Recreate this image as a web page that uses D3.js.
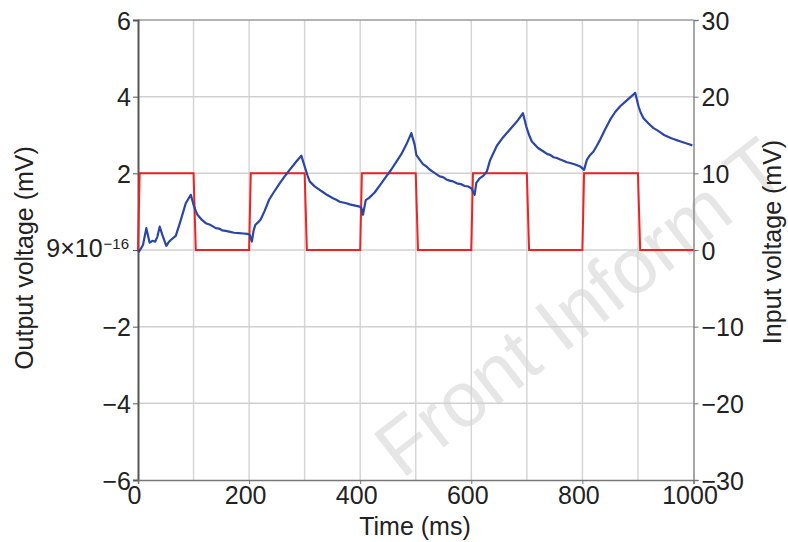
<!DOCTYPE html>
<html>
<head>
<meta charset="utf-8">
<script src="https://cdn.jsdelivr.net/npm/d3@7"></script>
<style>
  html, body { margin: 0; padding: 0; background: #fff; }
  svg { display: block; font-family: "Liberation Sans", Arial, sans-serif; }
</style>
</head>
<body>
<svg id="chart" width="788" height="542"></svg>
<script>
// ---- data ----
const xTicks = [0, 200, 400, 600, 800, 1000];
const xGrid = [100, 200, 300, 400, 500, 600, 700, 800, 900];
const leftTicks = [-6, -4, -2, 0, 2, 4, 6];
const leftTickLabels = ["\u22126", "\u22124", "\u22122", "9\u00d710", "2", "4", "6"];
const rightTicks = [-30, -20, -10, 0, 10, 20, 30];
const rightTickLabels = ["\u221230", "\u221220", "\u221210", "0", "10", "20", "30"];

// input (red) square wave, mV
const inputTime = [0, 3, 100, 104, 200, 203, 300, 304, 400, 403, 500, 504, 600, 603, 700, 704, 800, 803, 900, 904, 1000];
const inputVolt = [0, 10, 10, 0, 0, 10, 10, 0, 0, 10, 10, 0, 0, 10, 10, 0, 0, 10, 10, 0, 0];

// output (blue), mV
const outputTime = [0, 2, 9, 15, 21, 26, 31, 35, 39, 44, 51, 55, 59, 68, 77, 86, 95, 100, 104, 107, 114, 122, 131, 140, 146, 152, 158, 164, 173, 182, 190, 197,
  201, 205, 208, 211, 216, 221, 228, 236, 245, 255, 264, 273, 285, 294, 300, 305, 309, 318, 327, 334, 340, 351, 357, 363, 375, 381, 387, 399,
  402, 405, 410, 416, 426, 437, 447, 456, 465, 474, 483, 492, 498, 501, 507, 513, 519, 525, 531, 537, 543, 549, 555, 561, 567, 574, 581, 588, 594,
  600, 606, 609, 615, 622, 628, 634, 646, 655, 664, 673, 682, 693, 699, 704, 709, 715, 720, 730, 737, 742, 748, 754, 760, 766, 772, 778, 787, 796,
  803, 808, 814, 820, 826, 832, 841, 850, 859, 868, 882, 895, 901, 905, 910, 919, 928, 935, 941, 947, 953, 959, 965, 971, 977, 985, 992, 998];
const outputVolt = [-0.02, -0.04, 0.13, 0.57, 0.19, 0.24, 0.22, 0.35, 0.61, 0.39, 0.11, 0.2, 0.26, 0.37, 0.78, 1.22, 1.44, 1.18, 1.02, 0.92, 0.8, 0.70, 0.65, 0.57, 0.56, 0.51, 0.5, 0.48, 0.45, 0.44, 0.43, 0.42,
  0.4, 0.22, 0.5, 0.65, 0.72, 0.8, 1.02, 1.31, 1.52, 1.74, 1.92, 2.09, 2.31, 2.46, 2.18, 1.95, 1.79, 1.66, 1.57, 1.5, 1.44, 1.35, 1.31, 1.26, 1.22, 1.19, 1.17, 1.13,
  1.1, 0.92, 1.3, 1.36, 1.5, 1.72, 1.92, 2.1, 2.3, 2.5, 2.75, 3.05, 2.75, 2.48, 2.36, 2.24, 2.18, 2.1, 2.04, 1.98, 1.92, 1.9, 1.84, 1.81, 1.79, 1.74, 1.72, 1.67, 1.66,
  1.61, 1.44, 1.75, 1.87, 1.94, 2.05, 2.35, 2.72, 2.9, 3.05, 3.2, 3.35, 3.57, 3.22, 3.0, 2.83, 2.74, 2.66, 2.57, 2.5, 2.48, 2.42, 2.40, 2.36, 2.33, 2.29, 2.27, 2.23, 2.18,
  2.09, 2.35, 2.48, 2.57, 2.72, 2.88, 3.15, 3.40, 3.6, 3.75, 3.93, 4.10, 3.75, 3.58, 3.44, 3.3, 3.18, 3.12, 3.06, 3.0, 2.96, 2.92, 2.89, 2.86, 2.83, 2.79, 2.76, 2.73];

// ---- layout ----
const svg = d3.select("#chart");
const x = d3.scaleLinear().domain([0, 1000]).range([138, 693.5]);
const yL = d3.scaleLinear().domain([-6, 6]).range([480, 20]);
const yR = d3.scaleLinear().domain([-30, 30]).range([480, 20]);

// watermark
svg.append("text")
  .attr("transform", "translate(402,480) rotate(-38)")
  .attr("font-size", 78)
  .attr("fill", "#e6e6e6")
  .text("Front Inform T");

// grid
svg.append("g").selectAll("line").data(xGrid).join("line")
  .attr("x1", d => x(d)).attr("x2", d => x(d))
  .attr("y1", yL(6)).attr("y2", yL(-6))
  .attr("stroke", "#d6d6d6").attr("stroke-width", 1.5);
svg.append("g").selectAll("line").data([-4, -2, 0, 2, 4]).join("line")
  .attr("x1", x(0)).attr("x2", x(1000))
  .attr("y1", d => yL(d)).attr("y2", d => yL(d))
  .attr("stroke", "#d0d0d0").attr("stroke-width", 1.5);

// frame top
svg.append("line").attr("x1", x(0)).attr("x2", x(1000)).attr("y1", yL(6)).attr("y2", yL(6))
  .attr("stroke", "#9a9a9a").attr("stroke-width", 1.5);

// axes
const fs = 25;
const axL = d3.axisLeft(yL).tickValues(leftTicks).tickSize(5).tickFormat((d, i) => leftTickLabels[i]);
const gL = svg.append("g").attr("transform", `translate(${x(0)},0)`).call(axL);
const axR = d3.axisRight(yR).tickValues(rightTicks).tickSize(5).tickFormat((d, i) => rightTickLabels[i]);
const gR = svg.append("g").attr("transform", `translate(${x(1000)},0)`).call(axR);
const axB = d3.axisBottom(x).tickValues(xTicks).tickSize(4).tickFormat(d3.format("d"));
const gB = svg.append("g").attr("transform", `translate(0,${yL(-6)})`).call(axB);

[gL, gR, gB].forEach(g => {
  g.selectAll("text").attr("font-size", fs).attr("font-family", "'Liberation Sans', Arial, sans-serif").attr("fill", "#222");
});
gL.select(".domain").attr("stroke", "#555").attr("stroke-width", 2);
gL.selectAll(".tick line").attr("stroke", "#555");
gL.selectAll(".tick text").attr("x", -7).attr("dy", "0.36em");
gR.select(".domain").attr("stroke", "#8a8a8a").attr("stroke-width", 1.5);
gR.selectAll(".tick line").attr("stroke", "#777");
gR.selectAll(".tick text").attr("x", 8).attr("dy", "0.36em");
gB.select(".domain").attr("stroke", "#777").attr("stroke-width", 1.5);
gB.selectAll(".tick line").attr("stroke", "#777");
gB.selectAll(".tick text").attr("y", 6).attr("dx", -4);

// superscript for the 0 tick label on the left axis
gL.selectAll(".tick text").filter((d) => d === 0)
  .attr("dy", "0.24em")
  .append("tspan").attr("baseline-shift", "super").attr("font-size", 15).attr("dx", 1).text("\u221216");
gL.selectAll(".tick text").filter((d) => d === 0).attr("x", -9);

// lines
const lineIn = d3.line().x((d, i) => x(inputTime[i])).y((d, i) => yR(inputVolt[i]));
svg.append("path").datum(inputTime).attr("d", lineIn)
  .attr("fill", "none").attr("stroke", "#ee2222").attr("stroke-width", 2);

const lineOut = d3.line().x((d, i) => x(outputTime[i])).y((d, i) => yL(outputVolt[i]));
svg.append("path").datum(outputTime).attr("d", lineOut)
  .attr("fill", "none").attr("stroke", "#2a46a6").attr("stroke-width", 2.2).attr("stroke-linejoin", "round");

// axis titles
svg.append("text").attr("x", 415).attr("y", 535).attr("text-anchor", "middle")
  .attr("font-size", fs).attr("fill", "#222").text("Time (ms)");
svg.append("text").attr("transform", "translate(33,258) rotate(-90)").attr("text-anchor", "middle")
  .attr("font-size", fs).attr("fill", "#222").text("Output voltage (mV)");
svg.append("text").attr("transform", "translate(781,242) rotate(-90)").attr("text-anchor", "middle")
  .attr("font-size", fs).attr("fill", "#222").text("Input voltage (mV)");
</script>
</body>
</html>
